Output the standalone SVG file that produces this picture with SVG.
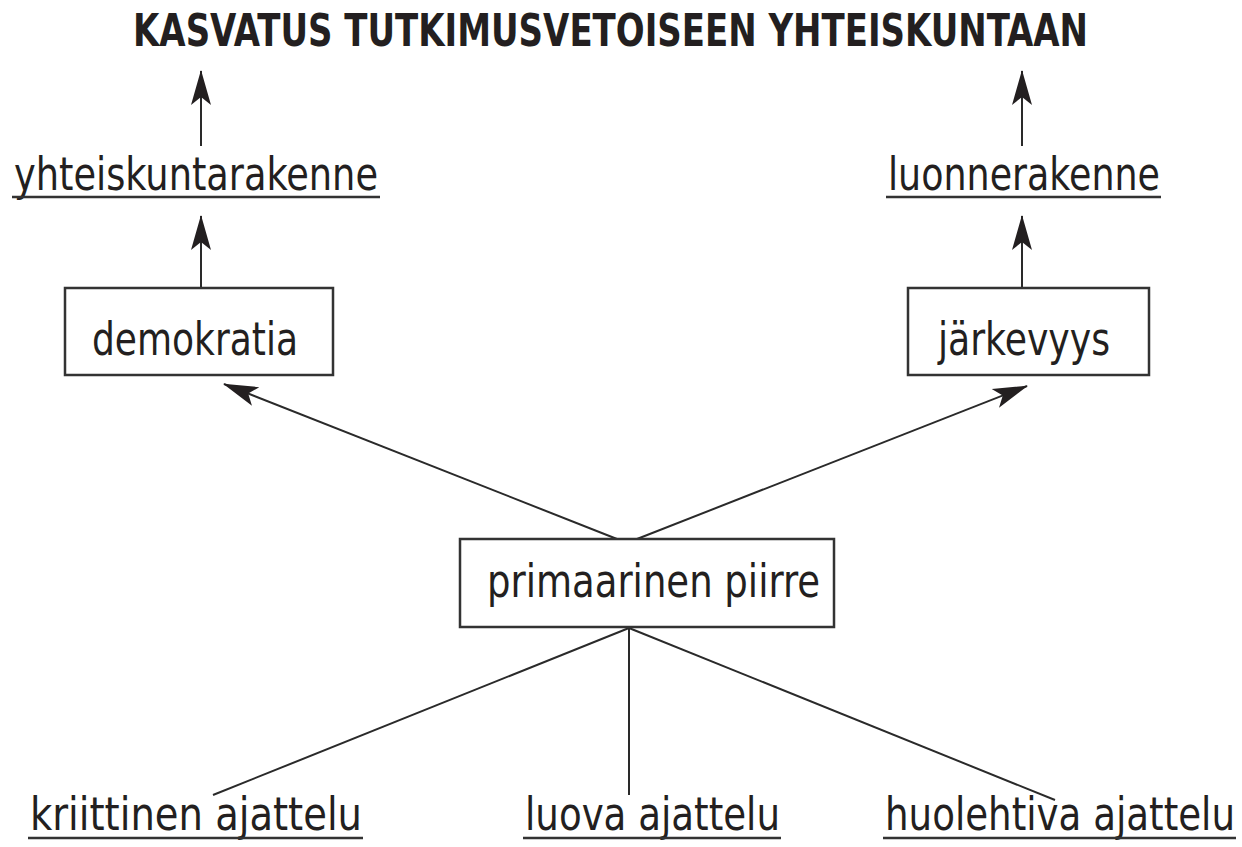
<svg xmlns="http://www.w3.org/2000/svg" width="1242" height="847" viewBox="0 0 1242 847">
<style>
.t{font-family:"Liberation Sans Narrow","DejaVu Sans Condensed","Liberation Sans",sans-serif;font-size:46px;fill:#231f20}
.h{font-family:"Liberation Sans Narrow","DejaVu Sans Condensed","Liberation Sans",sans-serif;font-size:45px;font-weight:bold;fill:#231f20}
.box{fill:#fff;stroke:#333;stroke-width:2.5}
.ul{stroke:#333;stroke-width:2.5}
.c{stroke:#2a2a2a;stroke-width:2;fill:none}
</style>
<defs>
<marker id="ah" viewBox="-36 -12 38 24" refX="0" refY="0" markerWidth="38" markerHeight="24" markerUnits="userSpaceOnUse" orient="auto">
<path d="M1,0 L-34,-10 L-26,0 L-34,10 Z" fill="#231f20"/>
</marker>
</defs>
<text class="h" x="133" y="46" textLength="955" lengthAdjust="spacingAndGlyphs">KASVATUS TUTKIMUSVETOISEEN YHTEISKUNTAAN</text>
<g id="connectors">
<line class="c" x1="201" y1="146" x2="201" y2="71" marker-end="url(#ah)"/>
<line class="c" x1="201" y1="288" x2="201" y2="216" marker-end="url(#ah)"/>
<line class="c" x1="1022" y1="146" x2="1022" y2="71" marker-end="url(#ah)"/>
<line class="c" x1="1022" y1="288" x2="1022" y2="216" marker-end="url(#ah)"/>
<line class="c" x1="617" y1="539" x2="224" y2="384" marker-end="url(#ah)"/>
<line class="c" x1="637" y1="539" x2="1027" y2="386" marker-end="url(#ah)"/>
<line class="c" x1="629" y1="628" x2="213" y2="795"/>
<line class="c" x1="629" y1="628" x2="629" y2="795"/>
<line class="c" x1="629" y1="628" x2="1055" y2="800"/>
</g>
<g id="yhteiskuntarakenne">
<text class="t" x="14" y="190" textLength="364" lengthAdjust="spacingAndGlyphs">yhteiskuntarakenne</text>
<line class="ul" x1="12" y1="197" x2="380" y2="197"/>
</g>
<g id="luonnerakenne">
<text class="t" x="888" y="190" textLength="272" lengthAdjust="spacingAndGlyphs">luonnerakenne</text>
<line class="ul" x1="886" y1="197" x2="1161" y2="197"/>
</g>
<g id="demokratia">
<rect class="box" x="65" y="288" width="268" height="87"/>
<text class="t" x="92" y="355" textLength="206" lengthAdjust="spacingAndGlyphs">demokratia</text>
</g>
<g id="jarkevyys">
<rect class="box" x="908" y="288" width="241" height="87"/>
<text class="t" x="938" y="355" textLength="172" lengthAdjust="spacingAndGlyphs">järkevyys</text>
</g>
<g id="primaarinen">
<rect class="box" x="460" y="539" width="374" height="88"/>
<text class="t" x="487" y="597" textLength="333" lengthAdjust="spacingAndGlyphs">primaarinen piirre</text>
</g>
<g id="kriittinen">
<text class="t" x="30" y="830" textLength="332" lengthAdjust="spacingAndGlyphs">kriittinen ajattelu</text>
<line class="ul" x1="28" y1="838" x2="363" y2="838"/>
</g>
<g id="luova">
<text class="t" x="525" y="830" textLength="255" lengthAdjust="spacingAndGlyphs">luova ajattelu</text>
<line class="ul" x1="523" y1="838" x2="781" y2="838"/>
</g>
<g id="huolehtiva">
<text class="t" x="885" y="830" textLength="350" lengthAdjust="spacingAndGlyphs">huolehtiva ajattelu</text>
<line class="ul" x1="883" y1="838" x2="1236" y2="838"/>
</g>
</svg>
